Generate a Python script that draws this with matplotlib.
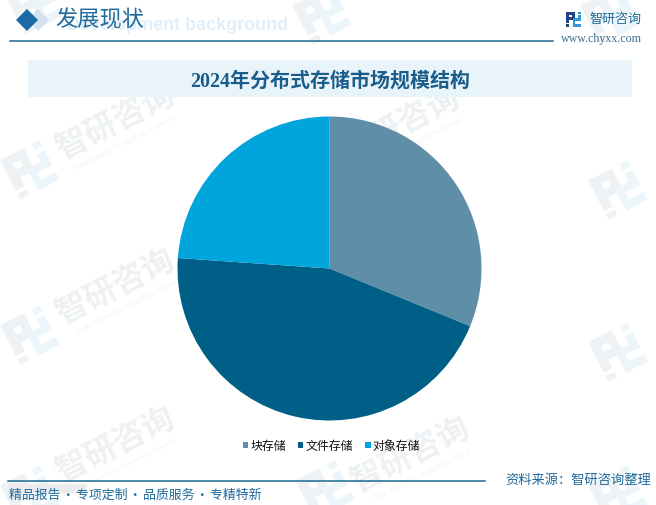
import numpy as np
import matplotlib
matplotlib.use("Agg")
import matplotlib.pyplot as plt
from matplotlib.patches import Polygon, Rectangle

# Data
categories = ["块存储", "文件存储", "对象存储"]
shares = [31.2, 44.9, 23.9]
colors = ["#5F8FA8", "#005F86", "#00A5DC"]

title = "2024年分布式存储市场规模结构"
footer_left = "精品报告\u200a·\u200a专项定制\u200a·\u200a品质服务\u200a·\u200a专精特新"
footer_right = "资料来源：智研咨询整理"

W, H = 656, 505
CJK = ["Noto Sans CJK SC", "DejaVu Sans"]
SERIF = ["Liberation Serif", "Noto Sans CJK SC"]
plt.rcParams["font.family"] = CJK

fig = plt.figure(figsize=(W / 100, H / 100), dpi=100, facecolor="white")

# page layer in pixel coordinates
bg = fig.add_axes([0, 0, 1, 1], zorder=0)
bg.set_xlim(0, W)
bg.set_ylim(H, 0)
bg.axis("off")


def logo(ax, cx, cy, s, left_color, right_color, rot=0.0, z=1):
    # company mark: a dark P-shaped part and a lighter S-shaped part, unit box scaled by s
    left = [(-1, -1, 0.2, -0.6), (-1, -1, -0.55, 0.55), (-0.2, -1, 0.2, 0.1),
            (-0.6, -0.3, 0.2, 0.1), (-1, 0.72, -0.55, 1)]
    right = [(0.6, -1, 1, -0.7), (0.6, -0.5, 1, 0.25), (-0.1, -0.1, 1, 0.25),
             (-0.1, -0.1, 0.25, 1), (-0.1, 0.62, 1, 1)]
    t = np.deg2rad(rot)
    R = np.array([[np.cos(t), np.sin(t)], [-np.sin(t), np.cos(t)]])
    for boxes, fc in [(left, left_color), (right, right_color)]:
        for x0, y0, x1, y1 in boxes:
            pts = np.array([(x0, y0), (x1, y0), (x1, y1), (x0, y1)])
            xy = pts * s @ R.T + [cx, cy]
            ax.add_patch(Polygon(xy, closed=True, fc=fc, ec="none", zorder=z))


# watermarks
for cx, cy in [(115, 122), (115, 287), (115, 445), (400, 125), (410, 455)]:
    bg.text(cx, cy, "智研咨询", fontsize=23, color="#EEF1F3", rotation=27,
            ha="center", va="center", fontweight="bold", zorder=1)
    t = np.deg2rad(27)
    bg.text(cx + 12 * np.sin(t) + 5, cy + 24 * np.cos(t), "CHINA INDUSTRY RESEARCH GROUP",
            fontsize=4.5, color="#F0F2F4", rotation=27, ha="center", va="center",
            family="DejaVu Sans", zorder=1)
for cx, cy in [(30, 170), (30, 335), (30, 495), (322, 15), (325, 490),
               (618, 190), (618, 352), (618, 495), (610, 15), (35, 5)]:
    logo(bg, cx, cy, 22, "#EFF2F4", "#EBF5FA", rot=27)

# header
bg.text(288, 25, "Development background", fontsize=13, color="#E3EFF8",
        ha="right", va="center", fontweight="bold", family="Liberation Sans", zorder=2)
bg.add_patch(Polygon([(38, 9), (49, 20), (38, 31), (27, 20)], fc="#D3E2EE", ec="none", zorder=3))
bg.add_patch(Polygon([(27, 9), (38, 20), (27, 31), (16, 20)], fc="#1A6AA6", ec="none", zorder=4))
bg.text(55, 20, "发展现状", fontsize=16, color="#1F6A9B", ha="left", va="center", zorder=5)
bg.plot([10, 553], [40.5, 40.5], color="#1B6A8F", lw=1.1, zorder=3)
logo(bg, 573.5, 19, 7.5, "#24457F", "#2E9BD6", z=3)
bg.text(589, 19.5, "智研咨询", fontsize=9.4, color="#1F6A9B", ha="left", va="center", zorder=3)
bg.text(642, 39, "www.chyxx.com", fontsize=8.6, color="#3E6C8C", ha="right", va="center",
        family=SERIF, zorder=3)

# title band
bg.add_patch(Rectangle((28, 60), 604, 37, fc="#E8F3FA", ec="none", zorder=2))
bg.text(330, 81.5, title, fontsize=14.4, color="#1A5C8A", ha="center", va="center",
        family=SERIF, fontweight="bold", zorder=3)

# footer
bg.plot([8, 485], [480.5, 480.5], color="#1B6A8F", lw=1.1, zorder=3)
bg.add_patch(Rectangle((8, 484), 78, 9, fc="#E9EBED", ec="none", zorder=2))
bg.text(9, 495.5, footer_left, fontsize=9.3, color="#1F6A9B", ha="left", va="center", zorder=3)
bg.text(651, 480, footer_right, fontsize=9.5, color="#1F6A9B", ha="right", va="center", zorder=3)

# pie, centre (329.5, 268.5) radius 152 px
ax = fig.add_axes([177.5 / W, 1 - 420.5 / H, 304 / W, 304 / H], zorder=2)
ax.patch.set_visible(False)
wedges, _ = ax.pie(shares, colors=colors, startangle=90, counterclock=False, radius=1.0)
ax.set_xlim(-1, 1)
ax.set_ylim(-1, 1)

fig.legend(wedges, categories, loc="center", bbox_to_anchor=(331.5 / W, 1 - 446 / H),
           ncol=3, frameon=False, fontsize=8.6, handlelength=0.45, handleheight=0.45,
           handletextpad=0.2, columnspacing=1.0, labelcolor="#111111")

fig.savefig("out.png", dpi=100)
